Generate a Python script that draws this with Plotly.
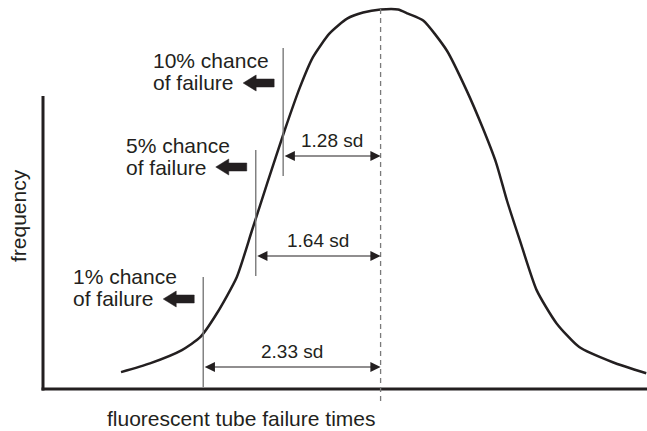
import numpy as np
import plotly.graph_objects as go

# Frequency curve of tube failure times: x in standard deviations from the
# mean, y as frequency relative to the peak.
curve_sd = [-3.41, -3.03, -2.61, -2.37, -2.15, -1.89, -1.69, -1.49, -1.26, -1.06,
            -0.89, -0.67, -0.44, -0.23, 0.00, 0.23, 0.36, 0.56, 0.87, 1.13,
            1.34, 1.52, 1.66, 1.83, 2.05, 2.31, 2.61, 3.05, 3.49]
curve_freq = [0.045, 0.068, 0.103, 0.137, 0.200, 0.295, 0.418, 0.542, 0.682, 0.795,
              0.874, 0.937, 0.976, 0.992, 1.000, 1.000, 0.989, 0.971, 0.892, 0.787,
              0.689, 0.595, 0.497, 0.392, 0.261, 0.174, 0.111, 0.071, 0.042]

# Lower-tail failure chances and their distance below the mean (in sd)
fail_pct = [10, 5, 1]
z_below_mean = [1.28, 1.64, 2.33]

x_title = "fluorescent tube failure times"
y_title = "frequency"

# ---------------------------------------------------------------------------
W, H = 647, 431
X0, X1 = -5.0, 3.5
Y0, Y1 = -0.11, 1.025
INK = "#231f20"
GREY = "#7a7a7a"
FONT = "Liberation Sans, Arial, Helvetica, sans-serif"


def xd(px):
    """page pixel column -> x data value"""
    return X0 + px * (X1 - X0) / W


def yd(py):
    """page pixel row -> y data value"""
    return Y1 - py * (Y1 - Y0) / H


def xp(x):
    return (x - X0) * W / (X1 - X0)


# per-group placement on the page (pixel rows), in the order of fail_pct
placement = [
    dict(top=48, arrow=156, rows=(60, 82), thick=83),
    dict(top=150, arrow=256, rows=(145, 167), thick=167),
    dict(top=277, arrow=367, rows=(276, 298), thick=299),
]

fig = go.Figure()

fig.add_trace(go.Scatter(
    x=curve_sd, y=curve_freq, mode="lines",
    line=dict(color=INK, width=2.5, shape="spline", smoothing=0.6),
    hoverinfo="skip",
))

shapes = []
annotations = []

# axes drawn as heavy strokes
shapes.append(dict(type="line", xref="x", yref="y",
                   x0=xd(43), x1=xd(43), y0=yd(96), y1=yd(390.5),
                   line=dict(color=INK, width=3)))
shapes.append(dict(type="line", xref="x", yref="y",
                   x0=xd(41.5), x1=xd(W), y0=yd(389), y1=yd(389),
                   line=dict(color=INK, width=3)))

# dashed line at the mean
shapes.append(dict(type="line", xref="x", yref="y",
                   x0=0, x1=0, y0=yd(9), y1=yd(403),
                   line=dict(color=GREY, width=1.3, dash="5px,4px")))

for pct, z, pl in zip(fail_pct, z_below_mean, placement):
    xl = -z
    lx = xp(xl)

    # vertical marker at mean - z sd
    shapes.append(dict(type="line", xref="x", yref="y",
                       x0=xl, x1=xl, y0=yd(pl["top"]), y1=yd(pl["arrow"] + 20),
                       line=dict(color=GREY, width=1.4)))

    # double-headed distance arrow from the marker to the mean
    ya = yd(pl["arrow"])
    annotations.append(dict(
        x=0, y=ya, ax=xl, ay=ya, xref="x", yref="y", axref="x", ayref="y",
        text="", showarrow=True, arrowside="end+start",
        arrowhead=2, startarrowhead=2, arrowsize=1.7, startarrowsize=1.7,
        arrowwidth=1.2, arrowcolor=INK, standoff=0, startstandoff=0,
    ))
    annotations.append(dict(
        x=xl / 2, y=yd(pl["arrow"] - 16), xref="x", yref="y",
        text=f"{z:.2f} sd", showarrow=False, xanchor="center", yanchor="middle",
        font=dict(family=FONT, size=19, color=INK),
    ))

    # "n% chance / of failure" label with a solid left-pointing arrow
    for line_txt, row in zip((f"{pct}% chance", "of failure"), pl["rows"]):
        annotations.append(dict(
            x=xd(lx - 132), y=yd(row), xref="x", yref="y",
            text=line_txt, showarrow=False, xanchor="left", yanchor="middle",
            font=dict(family=FONT, size=21, color=INK),
        ))
    tx, ty = lx - 40, pl["thick"]
    pts = [(tx, ty), (tx + 13, ty - 8), (tx + 13, ty - 4), (tx + 31, ty - 4),
           (tx + 31, ty + 4), (tx + 13, ty + 4), (tx + 13, ty + 8)]
    path = "M " + " L ".join(f"{xd(a):.5f},{yd(b):.5f}" for a, b in pts) + " Z"
    shapes.append(dict(type="path", xref="x", yref="y", path=path,
                       fillcolor=INK, line=dict(color=INK, width=0.5)))

# axis titles
annotations.append(dict(
    x=xd(241), y=yd(418), xref="x", yref="y", text=x_title, showarrow=False,
    xanchor="center", yanchor="middle", font=dict(family=FONT, size=21, color=INK),
))
annotations.append(dict(
    x=xd(18), y=yd(216), xref="x", yref="y", text=y_title, showarrow=False,
    textangle=-90, xanchor="center", yanchor="middle",
    font=dict(family=FONT, size=21, color=INK),
))

fig.update_layout(
    width=W, height=H,
    margin=dict(l=0, r=0, t=0, b=0),
    paper_bgcolor="white", plot_bgcolor="white",
    showlegend=False,
    xaxis=dict(range=[X0, X1], visible=False, fixedrange=True),
    yaxis=dict(range=[Y0, Y1], visible=False, fixedrange=True),
    shapes=shapes,
    annotations=annotations,
)

fig.write_html("out.html", config={"displayModeBar": False})
